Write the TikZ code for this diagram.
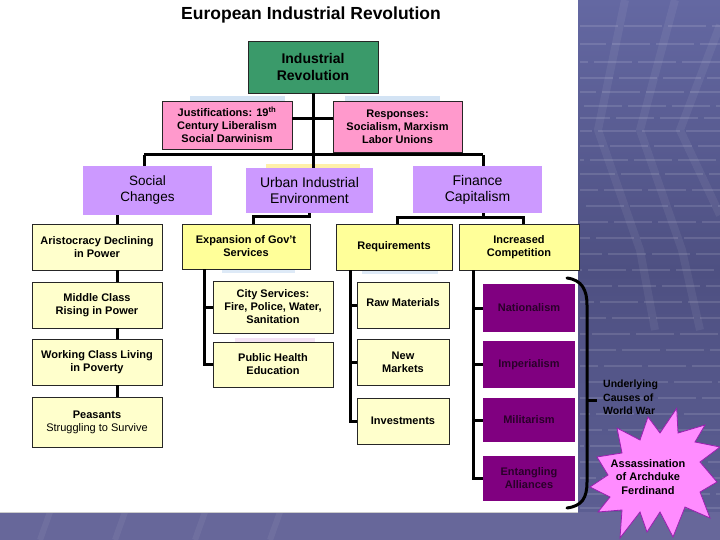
\documentclass[tikz,border=0pt]{standalone}
\usepackage{fontspec}
\setmainfont{Liberation Sans}
\definecolor{paleY}{HTML}{FFFFCC}
\definecolor{yelY}{HTML}{FFFF99}
\definecolor{pinkC}{HTML}{FF99CC}
\definecolor{lavC}{HTML}{CC99FF}
\definecolor{greenC}{HTML}{3A9A6A}
\definecolor{dpC}{HTML}{800080}
\definecolor{dpT}{HTML}{2A002A}
\definecolor{starC}{HTML}{FF8CFF}
\definecolor{starE}{HTML}{9A1FB0}
\definecolor{bgTop}{HTML}{6468A2}
\definecolor{bgMid}{HTML}{4E5082}
\definecolor{bgBot}{HTML}{5C5E92}
\definecolor{bandC}{HTML}{67679A}
\definecolor{ghostB}{HTML}{C9DCF2}
\definecolor{ghostY}{HTML}{FFEFA0}
\definecolor{ghostP}{HTML}{F2DDF2}
\tikzset{
  box/.style={draw=black!85, line width=0.8pt, inner sep=0pt, align=center,
    font=\bfseries\fontsize{11}{13}\selectfont},
  sz/.style 2 args={minimum width=#1, minimum height=#2},
  pale/.style={box, fill=paleY},
  yel/.style={box, fill=yelY},
  pinkbox/.style={box, fill=pinkC},
  lav/.style={box, draw=none, fill=lavC, font=\fontsize{14}{16}\selectfont},
  dp/.style={box, draw=none, fill=dpC, text=dpT},
  conn/.style={line width=3pt, black},
  stripe/.style={white, opacity=0.12, line width=1.5pt},
  band/.style={white, opacity=0.06, line width=8pt},
}
\begin{document}
\begin{tikzpicture}[x=1pt,y=-1pt]
\useasboundingbox (0,0) rectangle (720,540);
% background
\shade[top color=bgTop, bottom color=bgMid] (0,0) rectangle (720,270);
\shade[top color=bgMid, bottom color=bgBot] (0,270) rectangle (720,512);
\fill[bandC] (0,512) rectangle (720,540);
% faint decorative stripes on the right
\foreach \yy/\off in {26/0,44/12,62/30,78/5,92/22,106/40,118/8,131/26,146/14,160/34,174/3,190/20,206/38,222/10,238/28,254/16,270/36,286/6,302/24,318/12,334/32,350/2,366/20,382/38,398/10,414/28,430/16,446/34,462/4,478/22,494/40,508/14}
  \draw[stripe, dash pattern=on 38pt off 6pt, dash phase=\off pt] (580,\yy) -- (720,\yy);
\draw[band] (625,0) -- (598,130) -- (640,250) -- (655,330);
\draw[band] (675,0) -- (640,130) -- (682,250) -- (700,330);
\draw[band] (720,25) -- (680,130) -- (720,215);
\foreach \xx in {40,115,195,270}
  \draw[band, line width=6pt] (\xx,540) -- (\xx+10,512);
% white slide area
\fill[white] (0,0) rectangle (578,512);
\draw[black!20, line width=1pt] (0,512.5) -- (578,512.5);
% faint ghost bands behind boxes
\fill[ghostB, opacity=0.8] (190,96) rectangle (285,101);
\fill[ghostB, opacity=0.8] (345,96) rectangle (440,101);
\fill[ghostY, opacity=0.9] (266,164) rectangle (360,168);
\fill[ghostB, opacity=0.6] (222,269) rectangle (295,273);
\fill[ghostB, opacity=0.6] (362,270) rectangle (438,274);
\fill[ghostP, opacity=0.8] (235,338) rectangle (315,342);

% title
\node[font=\bfseries\fontsize{17.5}{20}\selectfont] (title) at (311,15) {European Industrial Revolution};

% level 0 / 1
\node[box, fill=greenC, sz={130}{52}, font=\bfseries\fontsize{14}{17}\selectfont] (IR) at (313,67) {Industrial\\Revolution};
\node[pinkbox, sz={130}{48}] (just) at (227,125) {Justifications: 19\textsuperscript{th}\\Century Liberalism\\Social Darwinism};
\node[pinkbox, sz={129}{51}] (resp) at (397.5,126.5) {Responses:\\Socialism, Marxism\\Labor Unions};
\node[lav, sz={129}{49}, font=\fontsize{13.5}{16}\selectfont] (social) at (147.5,190.5) {Social\\Changes};
\node[lav, sz={127}{45}] (urban) at (309.5,190.5) {Urban Industrial\\Environment};
\node[lav, sz={129}{47}] (finance) at (477.5,189.5) {Finance\\Capitalism};

% social column
\node[pale, sz={130}{46}] (aris) at (97,247) {Aristocracy Declining\\in Power};
\node[pale, sz={130}{46}] (middle) at (97,305) {Middle Class\\Rising in Power};
\node[pale, sz={130}{46}] (working) at (97,362) {Working Class Living\\in Poverty};
\node[pale, sz={130}{50}] (peasants) at (97,422) {Peasants\\{\mdseries Struggling to Survive}};

% urban column
\node[yel, sz={128}{45}] (expan) at (246,246.5) {Expansion of Gov't\\Services};
\node[pale, sz={120}{52}] (city) at (273,307) {City Services:\\Fire, Police, Water,\\Sanitation};
\node[pale, sz={120}{45}] (public) at (273,364.5) {Public Health\\Education};

% finance columns
\node[yel, sz={116}{46}] (req) at (394,247) {Requirements};
\node[pale, sz={92}{46}] (raw) at (403,305) {\raisebox{5pt}{Raw Materials}};
\node[pale, sz={92}{46}] (newm) at (403,362) {New\\Markets};
\node[pale, sz={92}{46}] (inv) at (403,421) {Investments};
\node[yel, sz={120}{46}] (inc) at (519,247) {Increased\\Competition};
\node[dp, sz={92}{48}] (nat) at (529,308) {Nationalism};
\node[dp, sz={92}{47}] (imp) at (529,364.5) {Imperialism};
\node[dp, sz={92}{44}] (mil) at (529,420) {Militarism};
\node[dp, sz={92}{45}] (ent) at (529,478.5) {Entangling\\Alliances};

% connectors
\coordinate (busL) at (144,155);
\coordinate (busR) at (483,155);
\draw[conn] (IR.south) -- (IR.south |- urban.north);
\draw[conn] (busL) -- (busR);
\draw[conn] (busL) -- (busL |- social.north);
\draw[conn] (busR) -- (busR |- finance.north);
\coordinate (jr) at (0,119);
\draw[conn] (just.east |- jr) -- (resp.west |- jr);

\coordinate (c1) at (117,0);
\draw[conn] (social.south -| c1) -- (aris.north -| c1);
\draw[conn] (aris.south -| c1) -- (middle.north -| c1);
\draw[conn] (middle.south -| c1) -- (working.north -| c1);
\draw[conn] (working.south -| c1) -- (peasants.north -| c1);

\coordinate (c2) at (253,216.5);
\draw[conn] (urban.south) |- (c2) -- (c2 |- expan.north);
\coordinate (c3) at (204,0);
\draw[conn] (expan.south -| c3) |- (public.west);
\draw[conn] (c3 |- city.west) -- (city.west);

\coordinate (c4) at (483,218);
\draw[conn] (c4 |- finance.south) -- (c4);
\draw[conn] ([xshift=3]req.north) |- (c4) -| ([xshift=4]inc.north);
\coordinate (c5) at (350,0);
\draw[conn] (req.south -| c5) |- (inv.west);
\draw[conn] (c5 |- raw.west) -- (raw.west);
\draw[conn] (c5 |- newm.west) -- (newm.west);
\coordinate (c6) at (473,0);
\draw[conn] (inc.south -| c6) |- (ent.west);
\draw[conn] (c6 |- nat.west) -- (nat.west);
\draw[conn] (c6 |- imp.west) -- (imp.west);
\draw[conn] (c6 |- mil.west) -- (mil.west);

% brace
\coordinate (brT) at (567,278);
\coordinate (brB) at (567,508);
\coordinate (brM) at (587,400);
\draw[conn, line cap=round] (brT) .. controls (582,280) and (587,290) .. (587,305) -- (587,482) .. controls (587,498) and (582,506) .. (brB);
\draw[conn] (brM) -- ++(10,0);
\node[anchor=west, align=left, font=\bfseries\fontsize{10.5}{13.5}\selectfont, inner sep=0pt] (under) at (603,397.5) {Underlying\\Causes of\\World War};

% starburst
\fill[starC, draw=starE, line width=0.8pt]
 (676.7,408.3) -- (678,433) -- (705,425) -- (695,442) -- (720,447) -- (700,462) -- (717,482) -- (700,492) -- (710,518) -- (685,507) -- (673,537) -- (660,512) -- (647,532) -- (640,512) -- (620,538) -- (622,510) -- (598,512) -- (610,497) -- (590,487) -- (608,475) -- (597,457) -- (622,453) -- (617,428) -- (640,440) -- (648,417) -- (660,433) -- cycle;
\node[align=center, font=\bfseries\fontsize{11}{13.5}\selectfont, inner sep=0pt] (assas) at (648,477) {Assassination\\of Archduke\\Ferdinand};
\end{tikzpicture}
\end{document}
